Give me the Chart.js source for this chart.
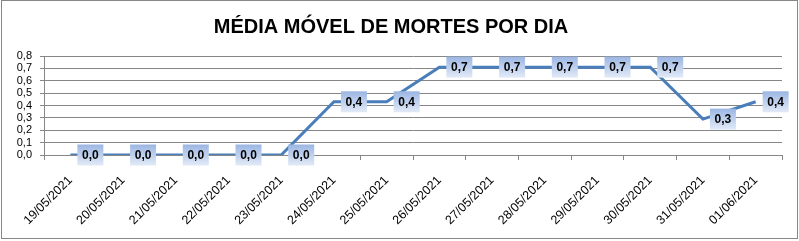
<!DOCTYPE html>
<html>
<head>
<meta charset="utf-8">
<script src="https://cdn.jsdelivr.net/npm/chart.js@4/dist/chart.umd.min.js"></script>
<style>
  html,body{margin:0;padding:0;background:#fff;}
  #wrap{width:799px;height:241px;position:relative;}
</style>
</head>
<body>
<div id="wrap"><canvas id="c" width="799" height="241"></canvas></div>
<script>
const chartTitle = "MÉDIA MÓVEL DE MORTES POR DIA";
const categories = ["19/05/2021","20/05/2021","21/05/2021","22/05/2021","23/05/2021","24/05/2021","25/05/2021","26/05/2021","27/05/2021","28/05/2021","29/05/2021","30/05/2021","31/05/2021","01/06/2021"];
const mediaMovel = [0, 0, 0, 0, 0, 0.43, 0.43, 0.71, 0.71, 0.71, 0.71, 0.71, 0.29, 0.43];
const yTicks = [0, 0.1, 0.2, 0.3, 0.4, 0.5, 0.6, 0.7, 0.8];

const fmt = v => v.toFixed(1).replace('.', ',');

const borderPlugin = {
  id: 'outerBorder',
  beforeDraw(chart) {
    const ctx = chart.ctx;
    ctx.save();
    ctx.fillStyle = '#fff';
    ctx.fillRect(0, 0, chart.width, chart.height);
    ctx.strokeStyle = '#878787';
    ctx.lineWidth = 1;
    ctx.strokeRect(1.5, 0.5, chart.width - 3, chart.height - 3);
    ctx.restore();
  }
};

const labelPlugin = {
  id: 'boxLabels',
  afterDatasetsDraw(chart) {
    const ctx = chart.ctx;
    const meta = chart.getDatasetMeta(0);
    ctx.save();
    ctx.font = 'bold 12px "Liberation Sans", Arial, sans-serif';
    ctx.textBaseline = 'middle';
    ctx.textAlign = 'center';
    meta.data.forEach((pt, i) => {
      const txt = fmt(mediaMovel[i]);
      const w = 26, h = 21;
      const x0 = pt.x + 7, y0 = pt.y - h / 2;
      const g = ctx.createLinearGradient(0, y0, 0, y0 + h);
      g.addColorStop(0, '#9bb6e3');
      g.addColorStop(1, '#e2eaf7');
      ctx.fillStyle = g;
      ctx.fillRect(x0, y0, w, h);
      ctx.fillStyle = '#000';
      ctx.fillText(txt, x0 + w / 2, pt.y + 1);
    });
    ctx.restore();
  }
};

new Chart(document.getElementById('c'), {
  type: 'line',
  data: {
    labels: categories,
    datasets: [{
      data: mediaMovel,
      borderColor: '#4a7ebb',
      borderWidth: 3,
      pointRadius: 0,
      tension: 0,
      fill: false
    }]
  },
  options: {
    responsive: false,
    animation: false,
    devicePixelRatio: 1,
    layout: { padding: { left: 0, right: 17, top: 0, bottom: 0 } },
    plugins: {
      legend: { display: false },
      tooltip: { enabled: false },
      title: {
        display: true,
        text: chartTitle,
        color: '#000',
        font: { family: '"Liberation Sans", Arial, sans-serif', size: 20, weight: 'bold', lineHeight: 1.2 },
        padding: { top: 15, bottom: 17 }
      }
    },
    scales: {
      x: {
        offset: true,
        grid: { display: true, drawOnChartArea: false, drawTicks: true, tickLength: 5, offset: true, color: '#868686' },
        border: { display: true, color: '#868686', width: 1 },
        ticks: {
          minRotation: 45, maxRotation: 45, autoSkip: false, padding: 13,
          color: '#000',
          font: { family: '"Liberation Sans", Arial, sans-serif', size: 12.5 }
        },
        afterFit(scale) { scale.height = 86; }
      },
      y: {
        min: 0, max: 0.8,
        afterBuildTicks(scale) { scale.ticks = yTicks.map(v => ({ value: v })); },
        grid: { color: '#868686', tickLength: 4, drawTicks: true },
        border: { display: true, color: '#868686', width: 1 },
        ticks: {
          autoSkip: false,
          padding: 8,
          color: '#000',
          font: { family: '"Liberation Sans", Arial, sans-serif', size: 11 },
          callback: v => fmt(v)
        },
        afterFit(scale) { scale.width = 44; }
      }
    }
  },
  plugins: [borderPlugin, labelPlugin]
});
</script>
</body>
</html>
